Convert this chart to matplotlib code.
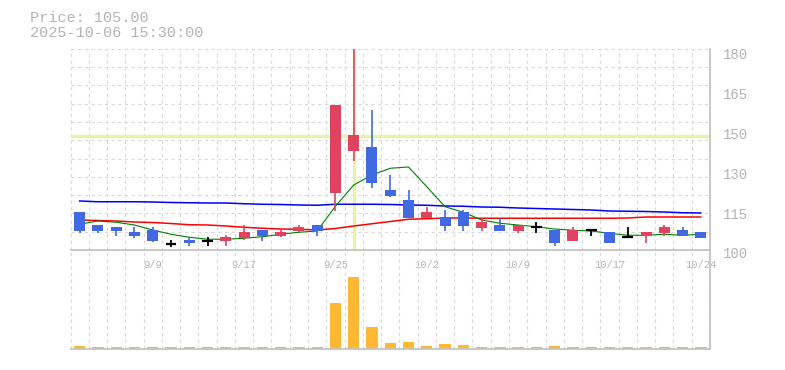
import matplotlib
matplotlib.use("Agg")
import matplotlib.pyplot as plt
from matplotlib.transforms import ScaledTranslation
import numpy as np

# ---------------- data ----------------
dates = ["9/3", "9/4", "9/5", "9/8", "9/9", "9/10", "9/11", "9/12", "9/16", "9/17",
         "9/18", "9/19", "9/22", "9/24", "9/25", "9/26", "9/29", "9/30", "10/1", "10/2",
         "10/3", "10/6", "10/7", "10/8", "10/9", "10/10", "10/14", "10/15", "10/16", "10/17",
         "10/20", "10/21", "10/22", "10/23", "10/24"]
opens = [115.3, 110.0, 109.2, 107.2, 108.0, 102.5, 104.0, 103.5, 103.6, 104.9,
         108.1, 105.6, 107.7, 110.0, 122.9, 139.7, 141.2, 124.0, 120.0, 112.9,
         113.2, 115.2, 108.8, 110.0, 107.6, 109.2, 108.0, 103.7, 108.0, 107.2,
         105.2, 105.7, 106.9, 108.0, 107.2]
highs = [115.3, 110.0, 109.2, 109.1, 109.1, 103.9, 105.1, 105.1, 106.0, 110.0,
         108.1, 108.1, 110.0, 110.0, 158.0, 181.0, 156.0, 130.0, 124.0, 117.3,
         116.0, 116.0, 112.8, 112.8, 110.0, 111.1, 108.0, 109.2, 108.0, 107.2,
         109.2, 107.2, 110.0, 109.2, 107.2]
lows = [106.9, 106.9, 105.7, 104.9, 103.1, 101.1, 101.7, 101.7, 101.7, 104.0,
        103.7, 105.1, 107.2, 105.7, 115.7, 135.7, 124.9, 121.1, 112.9, 112.9,
        107.7, 107.7, 107.7, 107.6, 106.9, 106.9, 101.7, 103.7, 105.7, 102.9,
        105.2, 102.9, 105.7, 105.7, 104.9]
closes = [107.7, 107.7, 107.7, 105.7, 103.7, 102.5, 102.9, 103.5, 105.2, 107.2,
          105.7, 107.2, 109.2, 107.6, 158.0, 146.0, 126.9, 121.7, 112.9, 115.2,
          109.7, 109.7, 111.2, 107.6, 110.0, 109.2, 102.9, 108.0, 108.0, 102.9,
          105.2, 107.2, 109.2, 105.7, 104.9]
volumes = [9, 6, 6, 6, 6, 6, 6, 6, 6, 6, 6, 6, 6, 6, 135, 213, 66, 18, 21, 9,
           15, 12, 6, 6, 6, 6, 9, 6, 6, 6, 6, 6, 6, 6, 6]
ma_long = [119.6, 119.3, 119.3, 119.3, 119.2, 119.0, 118.9, 118.8, 118.8, 118.5,
           118.3, 118.2, 118.0, 117.9, 118.3, 118.3, 118.3, 118.2, 118.0, 117.9,
           117.6, 117.5, 117.2, 117.1, 116.8, 116.6, 116.4, 116.2, 116.0, 115.6,
           115.5, 115.4, 115.2, 114.9, 114.8]
ma_mid = [112.0, 111.8, 111.6, 111.2, 111.0, 110.6, 110.1, 110.0, 109.6, 109.1,
          108.7, 108.4, 108.3, 108.0, 108.6, 109.6, 110.5, 111.4, 112.3, 112.5,
          112.8, 112.8, 112.7, 112.7, 112.7, 112.7, 112.7, 112.7, 112.7, 112.7,
          112.8, 113.2, 113.2, 113.2, 113.2]
ma_short = [110.3, 111.6, 111.1, 110.0, 108.0, 106.3, 105.1, 104.3, 104.3, 104.7,
            105.3, 106.3, 107.1, 107.6, 117.5, 126.0, 130.0, 132.7, 133.2, 125.3,
            117.3, 115.1, 112.0, 110.7, 110.0, 109.3, 108.4, 107.9, 107.6, 106.7,
            105.9, 105.9, 106.3, 105.9, 106.3]
ytick_values = [100, 116, 132, 148, 164, 180]
ytick_labels = ["100", "115", "130", "150", "165", "180"]
xtick_every = 5
xtick_start = 4
cross_index = 15
cross_price = 145.8
title_line1 = "Price: 105.00"
title_line2 = "2025-10-06 15:30:00"

# ---------------- styles ----------------
W, H = 785, 370
UP = "#e0435f"
DOWN = "#4169e1"
VOL = "#ffb833"
GRID = "#d9d9d9"
AXIS = "#c4c4c4"
TXT = "#b4b4b4"
CROSS = "#e4f4a8"
MONO = ["Liberation Mono", "DejaVu Sans Mono"]

fig = plt.figure(figsize=(W / 100, H / 100), dpi=100)
fig.patch.set_facecolor("white")

left_px, right_px = 70.5, 710
top_px, price_bot_px, vol_bot_px = 48.8, 250, 349
ax = fig.add_axes([left_px / W, 1 - price_bot_px / H, (right_px - left_px) / W,
                   (price_bot_px - top_px) / H])
axv = fig.add_axes([left_px / W, 1 - vol_bot_px / H, (right_px - left_px) / W,
                    (vol_bot_px - price_bot_px) / H])

n = len(dates)
x = np.arange(n)
ymin = 100.0
ymax = 100 + (price_bot_px - top_px) * 0.4

for a in (ax, axv):
    a.set_xlim(-0.5, n - 0.5)
    a.set_facecolor("none")
    for s in ("left", "top"):
        a.spines[s].set_visible(False)
    for s in ("right", "bottom"):
        a.spines[s].set_color(AXIS)
        a.spines[s].set_linewidth(1.3)
    for xi in np.arange(-0.5, n, 1.0):
        a.axvline(xi, color=GRID, lw=0.8, dashes=(3, 3), zorder=0.5, clip_on=False)

ax.set_ylim(ymin, ymax)
step = (ymax - ymin) / ((price_bot_px - top_px) / 18.29)
gv = ymin + step
while gv <= ymax + 0.01:
    ax.axhline(gv, color=GRID, lw=0.8, dashes=(3, 3), zorder=0.5, clip_on=False)
    gv += step

# crosshair
ax.axvline(cross_index, color=CROSS, lw=2.4, zorder=1)
ax.axhline(cross_price, color=CROSS, lw=2.4, zorder=1)

# moving averages
ax.plot(x, ma_long, color="#0000ff", lw=1.1, zorder=2)
ax.plot(x, ma_mid, color="#ff0000", lw=1.1, zorder=2)
ax.plot(x, ma_short, color="#008000", lw=0.8, zorder=2)

# candles
bw = 0.6
for i in range(n):
    o, h, l, c = opens[i], highs[i], lows[i], closes[i]
    if abs(c - o) < 1e-9:
        col = "black"
        ax.vlines(i, l, h, color=col, lw=1.3, zorder=3)
        ax.hlines(o, i - bw / 2, i + bw / 2, color=col, lw=1.6, zorder=3)
        continue
    col = UP if c > o else DOWN
    ax.vlines(i, l, h, color=col, lw=1.2, zorder=3)
    ax.bar(i, abs(c - o), bottom=min(o, c), width=bw, color=col, zorder=3.5,
           linewidth=0)

# volume
axv.bar(x, volumes, width=0.62, color=VOL, zorder=2, linewidth=0)
axv.set_ylim(0, max(volumes) * 99 / 72)
axv.set_yticks([])
axv.set_xticks([])

# ticks
ax.yaxis.tick_right()
ax.set_yticks(ytick_values)
ax.set_yticklabels(ytick_labels, fontsize=10, color=TXT, family=MONO)
ax.tick_params(axis="y", length=0, pad=9)
off = ScaledTranslation(0, -3 / 100, fig.dpi_scale_trans)
for lab in ax.get_yticklabels():
    lab.set_transform(lab.get_transform() + off)

xt = list(range(xtick_start, n, xtick_every))
ax.set_xticks(xt)
ax.set_xticklabels([dates[i] for i in xt], fontsize=7.5, color=TXT, family=MONO)
ax.tick_params(axis="x", length=0, pad=7)

# header text
fig.text(30 / W, 1 - 18 / H, title_line1, fontsize=11, color=TXT, family=MONO,
         va="center", ha="left")
fig.text(30 / W, 1 - 33 / H, title_line2, fontsize=11, color=TXT, family=MONO,
         va="center", ha="left")

fig.savefig("out.png", dpi=100, facecolor="white")
